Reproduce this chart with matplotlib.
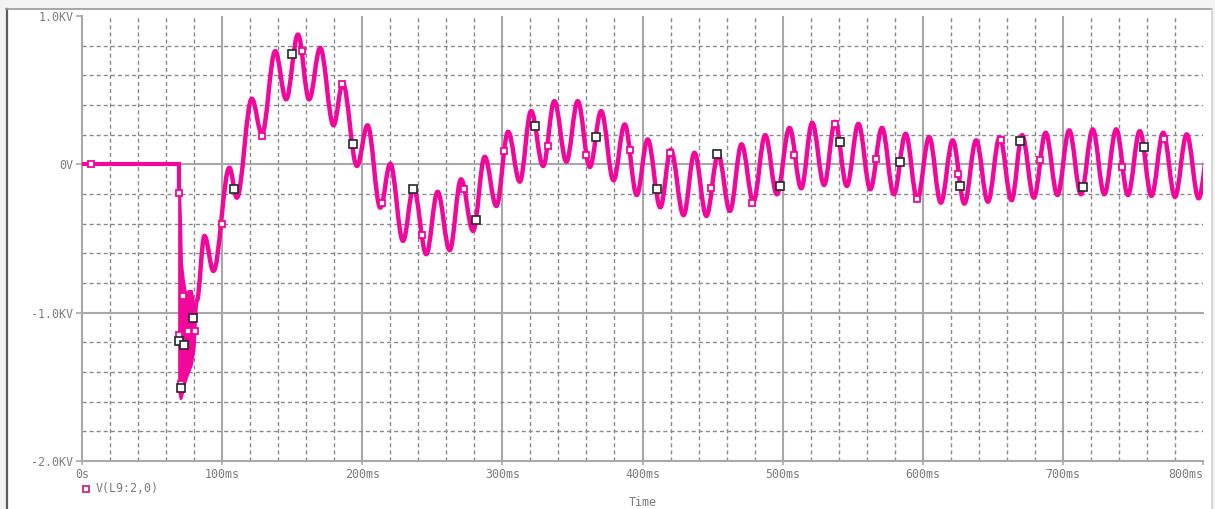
"""
Transient plot of V(L9:2,0) in the style of a PSpice probe window.
"""

import matplotlib
matplotlib.use("Agg")
import matplotlib.pyplot as plt
from matplotlib.path import Path
from matplotlib.patches import PathPatch, Rectangle
from matplotlib.lines import Line2D

# --- data (time in ms, voltage in kV) ---
flat_t = [0.0, 69.0, 69.0]
flat_v = [0.0, 0.0, -0.20]

# switching burst: envelope of the high-frequency ringing
spike_t = [69.0, 69.6, 70.2, 71.0, 72.5, 74.0, 76.0, 78.0, 80.0, 81.0, 81.9]
spike_upper = [0.0, -0.18, -0.35, -0.67, -0.79, -0.87, -0.85, -0.85, -0.95, -0.94, -0.92]
spike_lower = [-1.53, -1.56, -1.58, -1.57, -1.50, -1.45, -1.40, -1.35, -1.24, -1.04, -0.92]

# peaks and troughs of the oscillation after the burst
wave_t = [81.9, 87.4, 93.8, 105.2, 110.5, 121.2, 128.4, 137.9, 145.7, 154.1,
          162.1, 170.0, 179.5, 186.1, 196.2, 203.8, 212.9, 220.0, 229.1, 236.6,
          245.7, 253.8, 262.4, 270.5, 279.1, 287.4, 295.7, 304.1, 312.4, 320.5,
          329.1, 337.1, 345.7, 353.8, 362.4, 370.5, 379.3, 387.3, 395.9, 403.7,
          412.7, 420.2, 429.3, 437.1, 445.6, 454.0, 462.4, 470.7, 479.1, 487.6,
          495.9, 504.9, 513.3, 521.1, 529.6, 537.4, 545.8, 554.1, 562.6, 570.9,
          579.4, 587.8, 596.1, 604.6, 612.9, 621.4, 629.7, 638.1, 646.5, 654.9,
          663.4, 670.9, 679.3, 687.7, 696.1, 704.5, 712.9, 721.3, 729.6, 738.1,
          746.4, 754.9, 763.2, 771.6, 780.0, 788.4, 796.9, 805.3]
wave_v = [-0.920, -0.483, -0.719, -0.023, -0.225, 0.442, 0.204, 0.763, 0.438, 0.875,
          0.438, 0.785, 0.263, 0.547, -0.011, 0.263, -0.292, 0.004, -0.516, -0.158,
          -0.606, -0.185, -0.579, -0.101, -0.449, 0.051, -0.281, 0.220, -0.117, 0.359,
          -0.011, 0.426, 0.018, 0.426, -0.018, 0.359, -0.108, 0.269, -0.207, 0.168,
          -0.290, 0.098, -0.343, 0.078, -0.348, 0.067, -0.314, 0.135, -0.252, 0.197,
          -0.202, 0.246, -0.162, 0.280, -0.139, 0.287, -0.146, 0.273, -0.168, 0.246,
          -0.202, 0.206, -0.236, 0.184, -0.259, 0.162, -0.265, 0.162, -0.252, 0.184,
          -0.242, 0.197, -0.225, 0.213, -0.207, 0.229, -0.202, 0.236, -0.202, 0.236,
          -0.207, 0.224, -0.213, 0.213, -0.220, 0.202, -0.229, 0.200]

# trace symbols
pink_t = [6.4, 69.3, 72.1, 69.3, 75.5, 80.7, 70.7, 99.8, 128.8, 156.9, 185.5,
          214.1, 242.6, 272.9, 301.4, 332.4, 359.8, 390.9, 419.3, 449.2, 478.3,
          508.0, 537.1, 566.8, 595.6, 625.3, 655.5, 683.8, 742.3, 772.5]
pink_v = [0.0, -0.195, -0.887, -1.152, -1.123, -1.123, -1.481, -0.404, 0.191, 0.763, 0.539,
          -0.259, -0.478, -0.168, 0.090, 0.123, 0.061, 0.094, 0.076, -0.162, -0.259,
          0.063, 0.273, 0.036, -0.232, -0.063, 0.162, 0.027, -0.018, 0.168]
black_t = [69.1, 73.1, 79.1, 70.7, 108.7, 150.2, 193.4, 235.9, 280.9, 323.6,
           367.1, 410.0, 453.4, 498.2, 541.0, 583.9, 626.6, 669.5, 714.3, 757.6]
black_v = [-1.190, -1.215, -1.035, -1.506, -0.163, 0.741, 0.135, -0.164, -0.377, 0.258,
           0.184, -0.163, 0.067, -0.146, 0.148, 0.015, -0.146, 0.159, -0.151, 0.116]

x_ticks = [0, 100, 200, 300, 400, 500, 600, 700, 800]
x_labels = ["0s", "100ms", "200ms", "300ms", "400ms", "500ms", "600ms", "700ms", "800ms"]
y_ticks = [-2, -1, 0, 1]
y_labels = ["-2.0KV", "-1.0KV", "0V", "1.0KV"]

TRACE = "#f2079c"
GRID = "#8a8a8a"
MAJOR = "#a8a8a8"
TEXT = "#7c7c7c"
FONT = "DejaVu Sans Mono"

W, H = 1215, 509
fig = plt.figure(figsize=(W / 100, H / 100), dpi=100, facecolor="#f3f3f3")

# window frame (kept behind the axes)
fig.add_artist(Rectangle((7 / W, 0), (1212 - 7) / W, (H - 9) / H, transform=fig.transFigure,
                         facecolor="white", edgecolor="none", zorder=-10))
fig.add_artist(Line2D([6.5 / W, 6.5 / W], [0, (H - 9) / H], transform=fig.transFigure,
                      color="#5c5c5c", lw=1.6, zorder=-5))
fig.add_artist(Line2D([6 / W, 1212 / W], [(H - 9) / H, (H - 9) / H], transform=fig.transFigure,
                      color="#9a9a9a", lw=1.2, zorder=-5))
fig.add_artist(Line2D([1212 / W, 1212 / W], [0, (H - 9) / H], transform=fig.transFigure,
                      color="#cfcfcf", lw=1.2, zorder=-5))

ax = fig.add_axes([82 / W, 48 / H, (1203 - 82) / W, (461 - 16) / H])
ax.set_facecolor("white")
ax.set_xlim(0, 800)
ax.set_ylim(-2, 1)

# grid: dashed every 20 ms / 0.2 kV, solid at the labelled divisions
for t in range(20, 800, 20):
    if t % 100:
        ax.axvline(t, color=GRID, lw=1.0, dashes=(2.9, 2.2), zorder=1)
    else:
        ax.axvline(t, color=MAJOR, lw=1.5, zorder=1)
for k in range(-9, 5):
    v = k / 5
    if k % 5:
        ax.axhline(v, color=GRID, lw=1.0, dashes=(2.9, 2.2), zorder=1)
    elif -2 < v <= 1:
        ax.axhline(v, color=MAJOR, lw=1.5, zorder=1, clip_on=False)

for side in ("top", "right"):
    ax.spines[side].set_visible(False)
for side in ("left", "bottom"):
    ax.spines[side].set_color(MAJOR)
    ax.spines[side].set_linewidth(1.5)

ax.set_yticks(y_ticks)
ax.set_yticklabels(y_labels)
ax.set_xticks(x_ticks)
ax.set_xticklabels(x_labels)
ax.tick_params(axis="y", direction="out", length=4.3, width=1.2, color=MAJOR, pad=2,
               labelsize=8.4, labelcolor=TEXT)
ax.tick_params(axis="x", direction="out", length=3, width=1.2, color=MAJOR, pad=2,
               labelsize=8.4, labelcolor=TEXT)
for lbl in ax.get_xticklabels() + ax.get_yticklabels():
    lbl.set_fontfamily(FONT)
ax.get_xticklabels()[-1].set_horizontalalignment("right")

# flat part and the burst
ax.plot(flat_t, flat_v, color=TRACE, lw=3, solid_joinstyle="miter", zorder=3)
ax.fill_between(spike_t, spike_lower, spike_upper, color=TRACE, lw=1.5, zorder=3)

# oscillation: smooth segments between successive extrema
verts = [(wave_t[0], wave_v[0])]
codes = [Path.MOVETO]
k = 0.363
for i in range(1, len(wave_t)):
    t0, v0 = wave_t[i - 1], wave_v[i - 1]
    t1, v1 = wave_t[i], wave_v[i]
    dt = t1 - t0
    verts += [(t0 + k * dt, v0), (t1 - k * dt, v1), (t1, v1)]
    codes += [Path.CURVE4] * 3
ax.add_patch(PathPatch(Path(verts, codes), fill=False, edgecolor=TRACE, lw=3.2,
                       capstyle="round", joinstyle="round", zorder=3))

ax.plot(pink_t, pink_v, "s", ms=4, mfc="white", mec=TRACE, mew=1.3, zorder=4)
ax.plot(black_t, black_v, "s", ms=5.5, mfc="white", mec="#262626", mew=1.2, zorder=5)

# legend and axis title
fig.add_artist(Line2D([86.3 / W], [1 - 489 / H], transform=fig.transFigure, marker="s",
                      ms=4.2, mfc="white", mec="#cc2a74", mew=1.3, linestyle="none"))
fig.text(96 / W, 1 - 489 / H, "V(L9:2,0)", color=TEXT, fontsize=8.4, family=FONT,
         ha="left", va="center")
fig.text(642.5 / W, 1 - 502.5 / H, "Time", color=TEXT, fontsize=8.4, family=FONT,
         ha="center", va="center")

fig.savefig("out.png", dpi=100, facecolor=fig.get_facecolor())
plt.close(fig)
